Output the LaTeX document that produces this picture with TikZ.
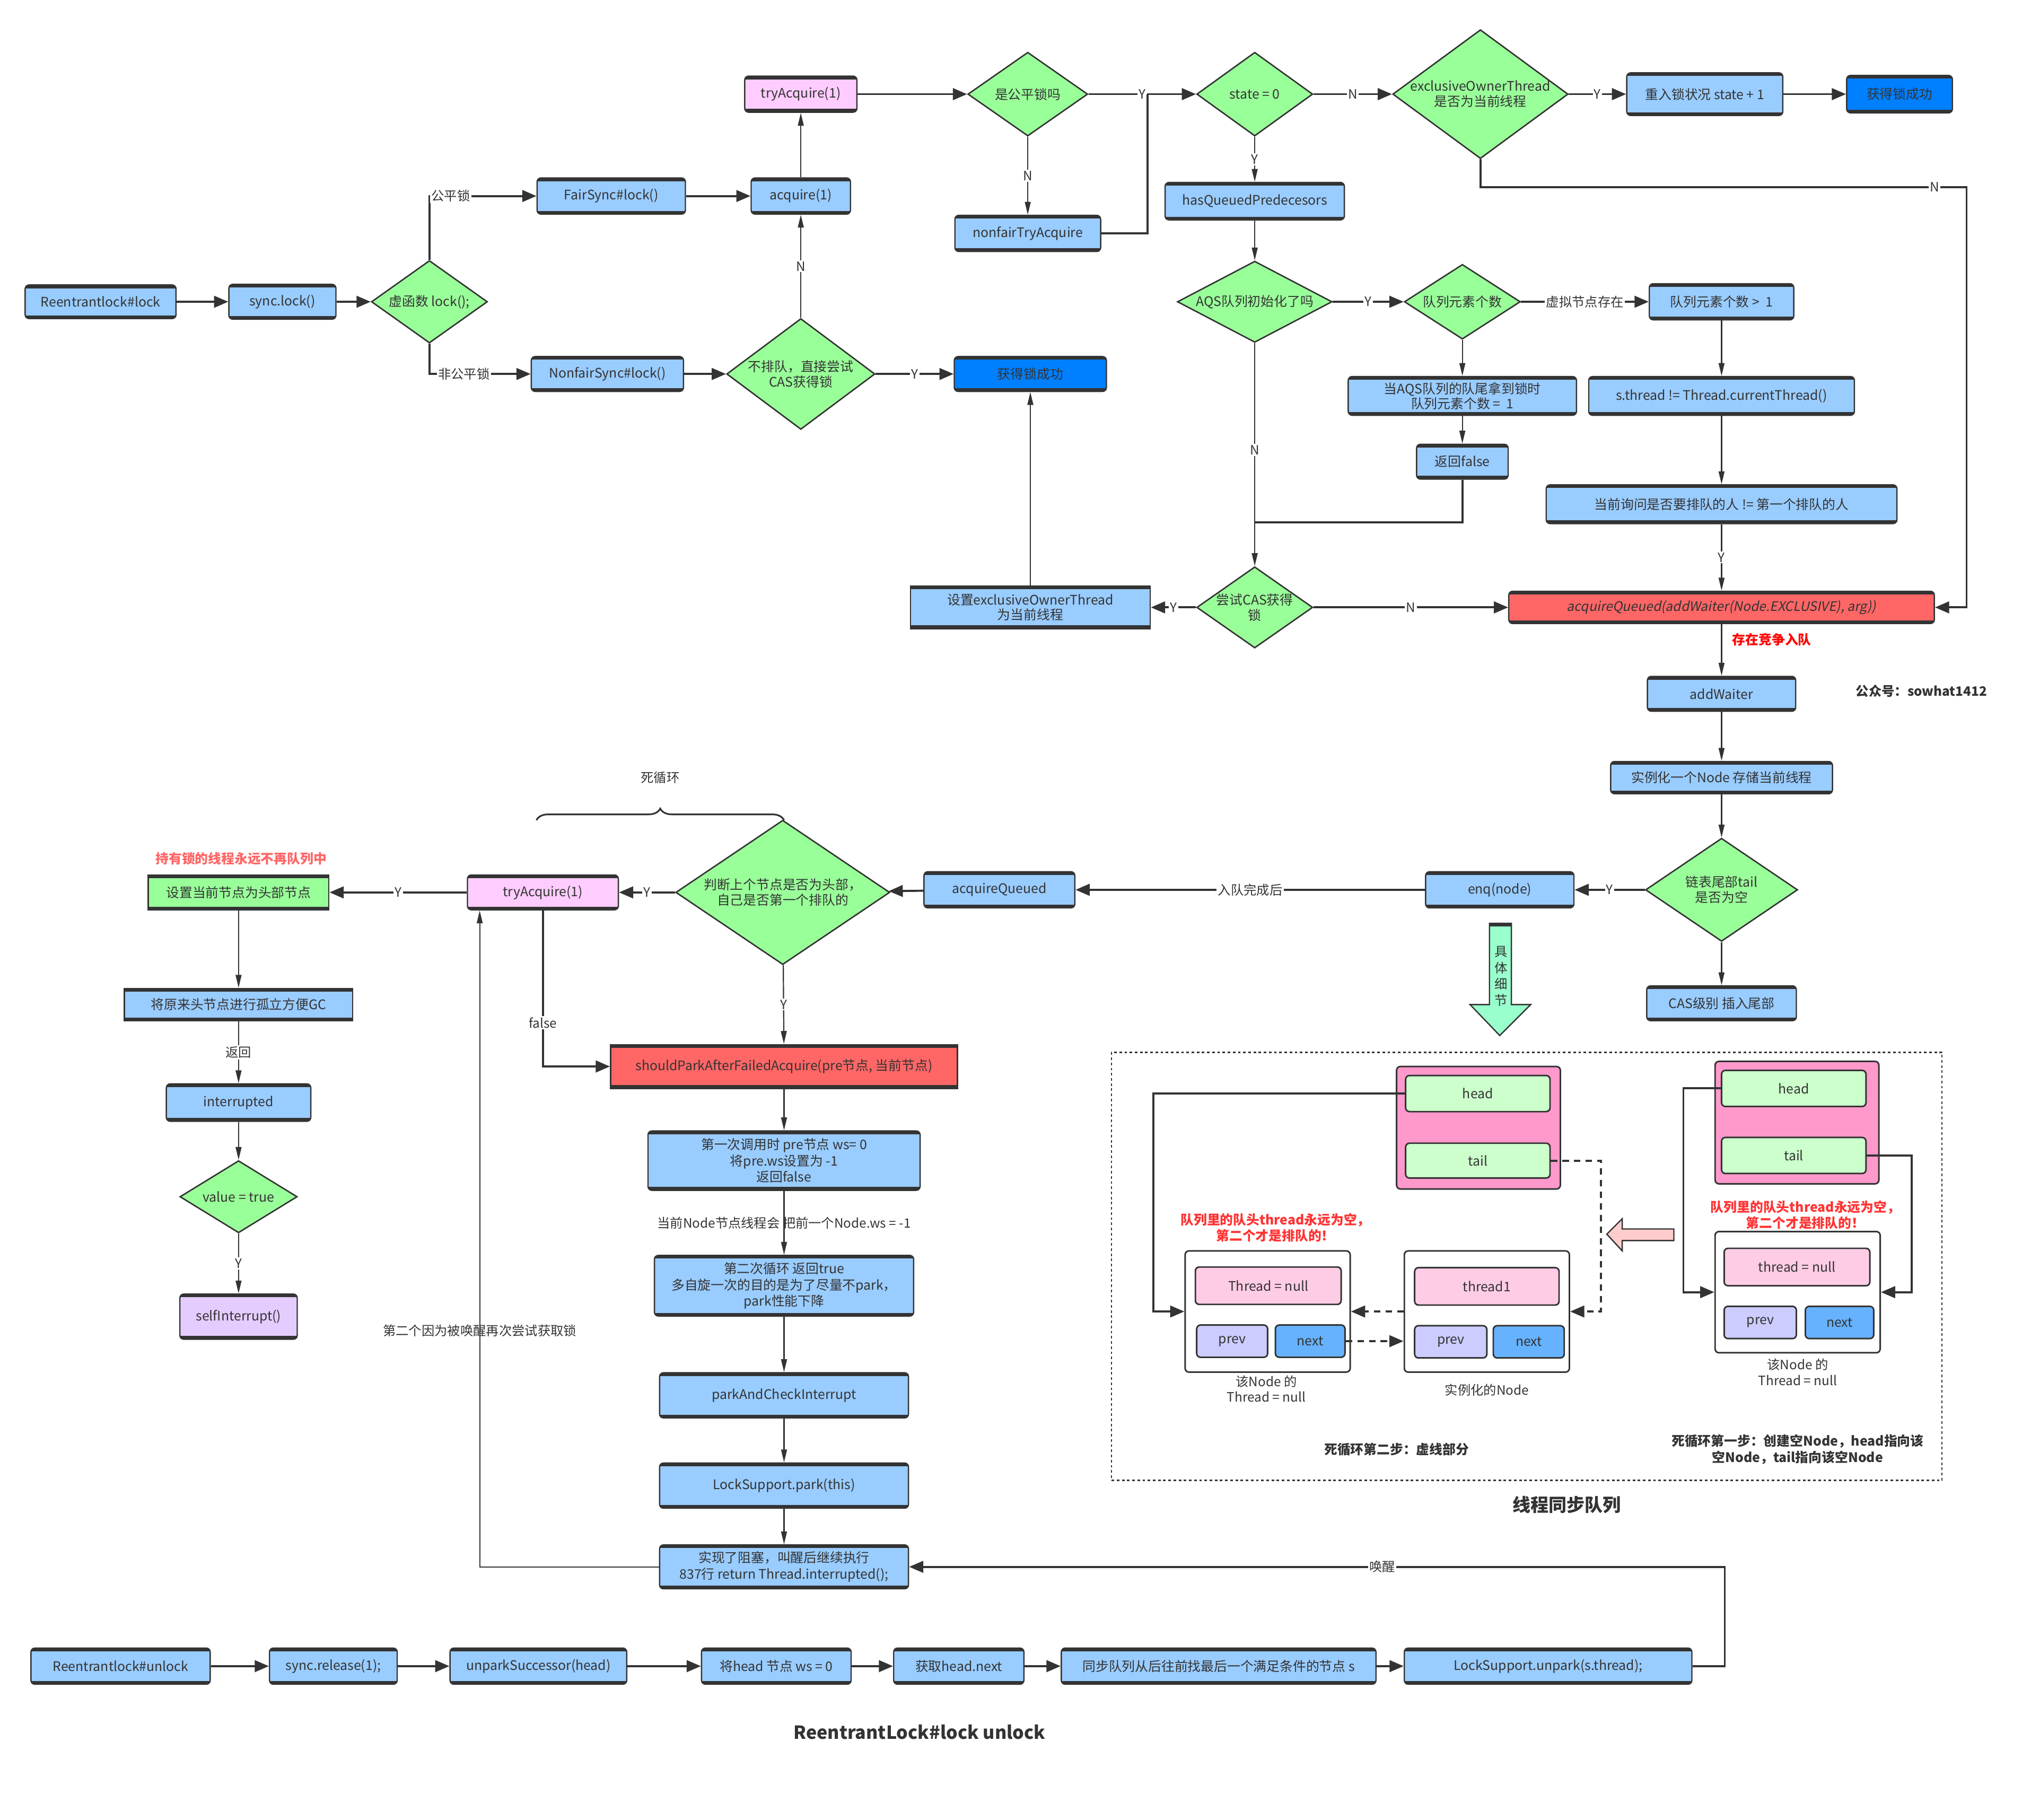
\documentclass[tikz,border=0pt]{standalone}
\usepackage{fontspec}
\setmainfont{Noto Sans CJK SC}
\newfontfamily\slfont{Noto Sans CJK SC}[FakeSlant=0.2]
\usetikzlibrary{shapes.geometric,arrows.meta,decorations.pathreplacing,calc}
\definecolor{ln}{HTML}{333333}
\definecolor{bl}{HTML}{99CCFF}
\definecolor{gr}{HTML}{99FF99}
\definecolor{pk}{HTML}{FFCCFF}
\definecolor{dkb}{HTML}{007FFF}
\definecolor{rdb}{HTML}{FF6666}
\definecolor{pu}{HTML}{E5CCFF}
\definecolor{pkc}{HTML}{FF99CC}
\definecolor{ht}{HTML}{CCFFCC}
\definecolor{thr}{HTML}{FFCCE6}
\definecolor{pv}{HTML}{CCCCFF}
\definecolor{nx}{HTML}{66B2FF}
\definecolor{ga}{HTML}{99FFCC}
\definecolor{pa}{HTML}{FFCCCC}
\definecolor{rtx}{HTML}{FF3333}
\begin{document}
\begin{tikzpicture}[x=1pt,y=-1pt,
  every node/.style={font=\fontsize{10.2}{12}\selectfont, text=ln, align=center},
  sz/.style 2 args={minimum width=#1, minimum height=#2},
  bx/.style={draw=ln, line width=1pt, rounded corners=3pt, fill=bl, inner sep=1pt,
    path picture={\draw[line width=5pt, ln] (path picture bounding box.north west) -- (path picture bounding box.north east) (path picture bounding box.south west) -- (path picture bounding box.south east);}},
  sq/.style={rounded corners=0pt},
  qb/.style={draw=ln, line width=1.2pt, rounded corners=3pt, inner sep=1pt},
  dm/.style 2 args={shape=diamond, draw=ln, line width=1.1pt, fill=gr, inner sep=0pt, minimum width=#1, minimum height=#2},
  thk/.style={draw=ln, line width=1.6pt, -{Triangle[length=11pt,width=9pt]}},
  thn/.style={draw=ln, line width=0.9pt, -{Triangle[length=10pt,width=4.5pt]}},
  dsh/.style={dash pattern=on 5pt off 4pt},
  lab/.style={fill=white, inner sep=1pt, font=\fontsize{10}{12}\selectfont},
  plain/.style={inner sep=1pt, font=\fontsize{10}{12}\selectfont},
  redb/.style={font=\fontsize{10.2}{12.5}\selectfont\bfseries},
  ttl/.style={font=\fontsize{14}{16}\selectfont\bfseries}
]
\useasboundingbox (0,0) rectangle (1568,1411);

% ---------------- top flow ----------------
\node[bx,sz={117}{26}] (rlock) at (78,234) {Reentrantlock\#lock};
\node[bx,sz={83}{27}] (slock) at (219,234) {sync.lock()};
\node[dm={90}{64},label={center:虚函数 lock();}] (vf) at (333,234) {};
\node[bx,sz={115}{28}] (fair) at (474,152) {FairSync\#lock()};
\node[bx,sz={77}{28}] (acq) at (621,152) {acquire(1)};
\node[bx,fill=pk,sz={87}{28}] (tryA) at (621,73) {tryAcquire(1)};
\node[bx,sz={118}{27}] (nfair) at (471,290) {NonfairSync\#lock()};
\node[dm={115}{86},label={center:不排队，直接尝试\\CAS获得锁}] (cas1) at (621,290) {};
\node[bx,fill=dkb,sz={118}{27}] (ok1) at (799,290) {获得锁成功};
\node[dm={93}{65},label={center:是公平锁吗}] (isfair) at (797,73) {};
\node[bx,sz={113}{28}] (nft) at (797,181) {nonfairTryAcquire};
\node[dm={90}{65},label={center:state = 0}] (st0) at (973,73) {};
\node[dm={136}{100},label={center:exclusiveOwnerThread\\是否为当前线程}] (eot) at (1148,73) {};
\node[bx,sz={121}{33}] (reent) at (1322,73) {重入锁状况 state + 1};
\node[bx,fill=dkb,sz={82}{29}] (ok2) at (1473,73) {获得锁成功};
\node[bx,sz={139}{29}] (hqp) at (973,156) {hasQueuedPredecesors};
\node[dm={120}{63},label={center:AQS队列初始化了吗}] (aqs) at (973,234) {};
\node[dm={90}{58},label={center:队列元素个数}] (cnt) at (1134,234) {};
\node[bx,sz={112}{28}] (gt1) at (1335,234) {队列元素个数 >\ \ 1};
\node[bx,sz={206}{30}] (sth) at (1335,307) {s.thread != Thread.currentThread()};
\node[bx,sz={272}{30}] (ask) at (1335,391) {当前询问是否要排队的人 != 第一个排队的人};
\node[bx,sz={177}{30},font=\fontsize{10.2}{11.5}\selectfont] (eq1) at (1134,307) {当AQS队列的队尾拿到锁时\\队列元素个数 =\ \ 1};
\node[bx,sz={71}{27}] (rf) at (1134,358) {返回false};
\node[dm={90}{63},label={center:尝试CAS获得\\锁}] (cas2) at (973,471) {};
\node[bx,sq,sz={186}{33},font=\fontsize{10.2}{11.5}\selectfont] (seo) at (799,471) {设置exclusiveOwnerThread\\为当前线程};
\node[bx,fill=rdb,sz={330}{25}] (aq) at (1335,471) {\slfont acquireQueued(addWaiter(Node.EXCLUSIVE), arg))};
\node[redb,text=red] (cz) at (1374,496) {存在竞争入队};
\node[bx,sz={115}{27}] (aw) at (1335,538) {addWaiter};
\node[font=\fontsize{10}{12}\selectfont\bfseries] (gzh) at (1490,536) {公众号：sowhat1412};
\node[bx,sz={172}{25}] (inst) at (1335,603) {实例化一个Node 存储当前线程};
\node[dm={118}{80},label={center:链表尾部tail\\是否为空}] (tailq) at (1335,690) {};
\node[bx,sz={116}{27}] (casins) at (1335,778) {CAS级别 插入尾部};
\node[bx,sz={115}{28}] (enq) at (1163,690) {enq(node)};
\node[bx,sz={117}{28}] (aq2) at (775,690) {acquireQueued};
\node[dm={166}{112},label={center:判断上个节点是否为头部，\\自己是否第一个排队的}] (judge) at (607,692) {};
\node[bx,fill=pk,sz={117}{27}] (tryA2) at (421,692) {tryAcquire(1)};
\node[bx,sq,fill=gr,sz={140}{27}] (sethead) at (185,692) {设置当前节点为头部节点};
\node[redb,text=rdb] (hold) at (187,666) {持有锁的线程永远不再队列中};
\node[bx,sq,sz={177}{25}] (gc) at (185,779) {将原来头节点进行孤立方便GC};
\node[bx,sz={112}{29}] (intr) at (185,855) {interrupted};
\node[dm={91}{56},label={center:value = true}] (vt) at (185,928) {};
\node[bx,fill=pu,sz={91}{35}] (selfi) at (185,1021) {selfInterrupt()};
\node[plain] (loop) at (512,603) {死循环};
\coordinate (br1) at (416,636);
\coordinate (br2) at (608,636);
\draw[ln,line width=1.3pt,decorate,decoration={brace,amplitude=9pt}] (br1) -- (br2);
\node[bx,sq,fill=rdb,sz={269}{34}] (spa) at (608,827) {shouldParkAfterFailedAcquire(pre节点, 当前节点)};
\node[bx,sz={211}{46},font=\fontsize{10.2}{12.6}\selectfont] (first) at (608,900) {第一次调用时 pre节点 ws= 0\\将pre.ws设置为 -1\\返回false};
\node[bx,sz={201}{47},font=\fontsize{10.2}{12.6}\selectfont] (second) at (608,997) {第二次循环 返回true\\多自旋一次的目的是为了尽量不park，\\park性能下降};
\node[bx,sz={193}{35}] (pac) at (608,1082) {parkAndCheckInterrupt};
\node[bx,sz={193}{35}] (lsp) at (608,1152) {LockSupport.park(this)};
\node[bx,sz={193}{34},font=\fontsize{10.2}{12.6}\selectfont] (blk) at (608,1215) {实现了阻塞，叫醒后继续执行\\837行 return Thread.interrupted();};

% bottom row
\node[bx,sz={139}{28}] (ulock) at (93.5,1292) {Reentrantlock\#unlock};
\node[bx,sz={99}{28}] (srel) at (258.5,1292) {sync.release(1);};
\node[bx,sz={137}{28}] (ups) at (417.5,1292) {unparkSuccessor(head)};
\node[bx,sz={116}{28}] (hws) at (602,1292) {将head 节点 ws = 0};
\node[bx,sz={101}{28}] (hnx) at (743.5,1292) {获取head.next};
\node[bx,sz={244}{28}] (findS) at (945,1292) {同步队列从后往前找最后一个满足条件的节点 s};
\node[bx,sz={223}{28}] (unpark) at (1200.5,1292) {LockSupport.unpark(s.thread);};
\node[ttl] (t1) at (713,1343) {ReentrantLock\#lock unlock};

% ---------------- connectors ----------------
\draw[thk] (rlock) -- (slock);
\draw[thk] (slock) -- (vf);
\draw[thk] (vf.north) |- node[lab,pos=0.6]{公平锁} (fair.west);
\draw[thk] (vf.south) |- node[lab,pos=0.67]{非公平锁} (nfair.west);
\draw[thk] (fair) -- (acq);
\draw[thn] (acq) -- (tryA);
\draw[thk] (nfair) -- (cas1);
\draw[thk] (cas1) -- node[lab]{Y} (ok1);
\draw[thn] (cas1) -- node[lab]{N} (acq);
\draw[thk] (tryA) -- (isfair);
\draw[thk] (isfair) -- node[lab]{Y} (st0);
\draw[thn] (isfair) -- node[lab]{N} (nft);
\coordinate (jn1) at (890,73);
\draw[ln,line width=1.6pt] (nft.east) -| (jn1);
\draw[thk] (st0) -- node[lab]{N} (eot);
\draw[thk] (eot) -- node[lab]{Y} (reent);
\draw[thk] (reent) -- (ok2);
\draw[thn] (st0) -- node[lab]{Y} (hqp);
\draw[thn] (hqp) -- (aqs);
\draw[thk] (aqs) -- node[lab]{Y} (cnt);
\draw[thk] (cnt) -- node[lab]{虚拟节点存在} (gt1);
\draw[thn] (gt1) -- (sth);
\draw[thn] (sth) -- (ask);
\draw[thn] (ask) -- node[lab]{Y} (aq);
\draw[thn] (cnt) -- (eq1);
\draw[thn] (eq1) -- (rf);
\coordinate (jn2) at (973,405);
\draw[ln,line width=1.6pt] (rf.south) |- (jn2);
\draw[thn] (aqs) -- node[lab,pos=0.48]{N} (cas2);
\draw[thk] (cas2) -- node[lab]{Y} (seo);
\draw[thn] (seo) -- (ok1);
\draw[thk] (cas2) -- node[lab]{N} (aq);
\coordinate (c1) at (1525,145);
\draw[thk] (eot.south) |- node[lab,pos=0.967]{N} (c1) |- (aq.east);
\draw[thn] (aq) -- (aw);
\draw[thn] (aw) -- (inst);
\draw[thn] (inst) -- (tailq);
\draw[thn] (tailq) -- (casins);
\draw[thk] (tailq) -- node[lab]{Y} (enq);
\draw[thk] (enq) -- node[lab]{入队完成后} (aq2);
\draw[thk] (aq2) -- (judge);
\draw[thk] (judge) -- node[lab]{Y} (tryA2);
\draw[thk] (tryA2) -- node[lab]{Y} (sethead);
\draw[thn] (sethead) -- (gc);
\draw[thn] (gc) -- node[lab]{返回} (intr);
\draw[thn] (intr) -- (vt);
\draw[thn] (vt) -- node[lab]{Y} (selfi);
\draw[thn] (judge) -- node[lab]{Y} (spa);
\draw[thk] (tryA2.south) |- node[lab,pos=0.36]{false} (spa.west);
\draw[thn] (spa) -- (first);
\draw[thn] (first) -- node[plain]{当前Node节点线程会 把前一个Node.ws = -1} (second);
\draw[thn] (second) -- (pac);
\draw[thn] (pac) -- (lsp);
\draw[thn] (lsp) -- (blk);
\coordinate (ta2in) at ($(tryA2.south west)+(10,0)$);
\draw[thn] (blk.west) -| node[plain,pos=0.68]{第二个因为被唤醒再次尝试获取锁} (ta2in);
\draw[thk] (ulock) -- (srel);
\draw[thk] (srel) -- (ups);
\draw[thk] (ups) -- (hws);
\draw[thk] (hws) -- (hnx);
\draw[thk] (hnx) -- (findS);
\draw[thk] (findS) -- (unpark);
\draw[thk] (unpark.east) -- ++(25,0) |- node[lab,pos=0.71]{唤醒} (blk.east);

% big green arrow
\draw[ln,line width=1pt,fill=ga] (1155,716) -- (1172,716) -- (1172,779) -- (1187,779) -- (1163,803) -- (1140,779) -- (1155,779) -- cycle;
\draw[ln,line width=3pt] (1155,717) -- (1172,717);
\node[font=\fontsize{10}{12.7}\selectfont] (detail) at (1164,757) {具\\体\\细\\节};

% ---------------- queue box ----------------
\node[draw=ln,line width=1pt,dash pattern=on 2pt off 2pt,minimum width=644,minimum height=332,inner sep=0pt] (qbox) at (1184,982) {};
\node[ttl] (t2) at (1215,1167) {线程同步队列};

\node[qb,fill=pkc,sz={127}{95}] (lq) at (1146.5,874.5) {};
\node[qb,fill=ht,sz={112}{28}] (lh) at (1146,848) {head};
\node[qb,fill=ht,sz={112}{27}] (lt) at (1146,900) {tail};
\node[qb,fill=pkc,sz={127}{95}] (rq) at (1393.5,870.5) {};
\node[qb,fill=ht,sz={112}{28}] (rh) at (1391,844) {head};
\node[qb,fill=ht,sz={112}{28}] (rt) at (1391,896) {tail};

\node[qb,fill=white,sz={128}{94}] (ln1) at (983,1017) {};
\node[qb,fill=thr,sz={113}{29}] (lthr) at (983.5,997) {Thread = null};
\node[qb,fill=pv,sz={55}{25}] (lpv) at (955.5,1040) {prev};
\node[qb,fill=nx,sz={54}{25}] (lnx) at (1016,1040) {next};
\node[qb,fill=white,sz={128}{94}] (mn) at (1153,1017) {};
\node[qb,fill=thr,sz={112}{29}] (mthr) at (1153,997.5) {thread1};
\node[qb,fill=pv,sz={56}{25}] (mpv) at (1125,1040.5) {prev};
\node[qb,fill=nx,sz={55}{25}] (mnx) at (1185.5,1040.5) {next};
\node[qb,fill=white,sz={128}{94}] (rn) at (1394,1002) {};
\node[qb,fill=thr,sz={113}{29}] (rthr) at (1393.5,982.5) {thread = null};
\node[qb,fill=pv,sz={56}{25}] (rpv) at (1365,1025.5) {prev};
\node[qb,fill=nx,sz={53}{25}] (rnx) at (1426.5,1025.5) {next};

\node[plain,font=\fontsize{10}{12}\selectfont] (lcap) at (982,1077) {该Node 的\\Thread = null};
\node[plain] (mcap) at (1153,1078) {实例化的Node};
\node[plain,font=\fontsize{10}{12}\selectfont] (rcap) at (1394,1064) {该Node 的\\Thread = null};
\node[redb,text=rtx] (lred) at (989,952) {队列里的队头thread永远为空，\\第二个才是排队的！};
\node[redb,text=rtx] (rred) at (1400,942) {队列里的队头thread永远为空，\\第二个才是排队的！};
\node[redb,text=ln] (step2) at (1083,1124) {死循环第二步：虚线部分};
\node[redb,text=ln] (step1) at (1394,1124) {死循环第一步：创建空Node，head指向该\\空Node，tail指向该空Node};

\draw[thk] (lh.west) -- ++(-195,0) |- (ln1.west);
\draw[thk,dsh] (lt.east) -- ++(39,0) |- (mn.east);
\draw[thk,dsh] (mn.west) -- (ln1.east);
\draw[thk,dsh] (lnx.east) -- (lnx.east -| mn.west);
\draw[thk] (rh.west) -- ++(-29,0) |- (rn.west);
\draw[thk] (rt.east) -- ++(35,0) |- (rn.east);

% pink hollow arrow
\draw[ln,line width=1pt,fill=pa] (1246,957) -- (1258,945) -- (1258,953) -- (1298,953) -- (1298,962) -- (1258,962) -- (1258,970) -- cycle;
\end{tikzpicture}
\end{document}
